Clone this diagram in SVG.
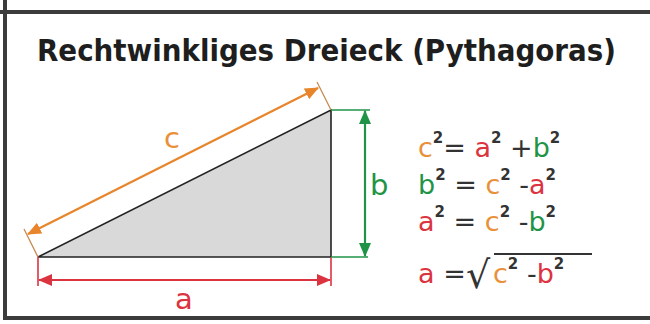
<svg xmlns="http://www.w3.org/2000/svg" width="650" height="324" viewBox="0 0 650 324">
<defs>
<style>
.frame{stroke:#3c3c3c;stroke-width:4;fill:none}
.t{font-family:"DejaVu Sans",Verdana,sans-serif}
.title{font-size:31px;font-weight:bold;fill:#1e1e1e}
.f{font-size:27px;fill:#333}
.lbl{font-size:29px}
.o{fill:#e8913a}
.r{fill:#dc3340}
.g{fill:#1f9447}
.sup{font-size:15px;font-weight:bold;fill:#333}
.dimo{stroke:#e8852a;stroke-width:2.2;fill:none}
.exto{stroke:#c8884e;stroke-width:1.3;fill:none}
.dimr{stroke:#dc3340;stroke-width:2.2;fill:none}
.extr{stroke:#dc3340;stroke-width:1.6;fill:none}
.dimg{stroke:#1f9447;stroke-width:2.2;fill:none}
.extg{stroke:#1f9447;stroke-width:1.6;fill:none}
</style>
<marker id="ao" viewBox="0 0 14 12" refX="13" refY="6" markerWidth="14" markerHeight="12" markerUnits="userSpaceOnUse" orient="auto-start-reverse"><path d="M0,0 L14,6 L0,12 z" fill="#e8852a"/></marker>
<marker id="ar" viewBox="0 0 14 12" refX="13" refY="6" markerWidth="14" markerHeight="12" markerUnits="userSpaceOnUse" orient="auto-start-reverse"><path d="M0,0 L14,6 L0,12 z" fill="#dc3340"/></marker>
<marker id="ag" viewBox="0 0 14 12" refX="13" refY="6" markerWidth="14" markerHeight="12" markerUnits="userSpaceOnUse" orient="auto-start-reverse"><path d="M0,0 L14,6 L0,12 z" fill="#1f9447"/></marker>
</defs>
<rect width="650" height="324" fill="#ffffff"/>
<g id="frame">
<line class="frame" x1="0" y1="12" x2="650" y2="12"/>
<line class="frame" x1="5" y1="0" x2="5" y2="318"/>
<line class="frame" x1="3" y1="318" x2="650" y2="318"/>
</g>
<g id="title"><text class="t title" transform="translate(37,61) scale(0.895,1)" x="0" y="0">Rechtwinkliges Dreieck (Pythagoras)</text></g>
<g id="triangle">
<polygon points="38,257 331,110 331,257" fill="#d9d9d9" stroke="#222" stroke-width="1.6" stroke-linejoin="miter"/>
</g>
<g id="connectors">
<line class="exto" x1="38" y1="257" x2="24" y2="229"/>
<line class="exto" x1="331" y1="110" x2="317" y2="82"/>
<line class="dimo" x1="28" y1="234" x2="318" y2="88" marker-start="url(#ao)" marker-end="url(#ao)"/>
<line class="extr" x1="38" y1="257" x2="38" y2="286"/>
<line class="extr" x1="331" y1="257" x2="331" y2="286"/>
<line class="dimr" x1="39" y1="280" x2="330" y2="280" marker-start="url(#ar)" marker-end="url(#ar)"/>
<line class="extg" x1="331" y1="110" x2="370" y2="110"/>
<line class="extg" x1="331" y1="257" x2="368" y2="257"/>
<line class="dimg" x1="365" y1="111" x2="365" y2="256" marker-start="url(#ag)" marker-end="url(#ag)"/>
</g>
<g id="labels">
<text class="t lbl o" x="164" y="148">c</text>
<text class="t lbl r" x="175" y="309">a</text>
<text class="t lbl g" x="370" y="195">b</text>
</g>
<g id="formula1"><text class="t f" x="418" y="157"><tspan class="o">c</tspan><tspan class="sup" dy="-14">2</tspan><tspan dy="14">= </tspan><tspan class="r">a</tspan><tspan class="sup" dy="-14">2</tspan><tspan dy="14"> +</tspan><tspan class="g">b</tspan><tspan class="sup" dy="-14">2</tspan></text></g>
<g id="formula2"><text class="t f" x="418" y="194"><tspan class="g">b</tspan><tspan class="sup" dy="-14">2</tspan><tspan dy="14"> = </tspan><tspan class="o">c</tspan><tspan class="sup" dy="-14">2</tspan><tspan dy="14"> -</tspan><tspan class="r">a</tspan><tspan class="sup" dy="-14">2</tspan></text></g>
<g id="formula3"><text class="t f" x="418" y="231"><tspan class="r">a</tspan><tspan class="sup" dy="-14">2</tspan><tspan dy="14"> = </tspan><tspan class="o">c</tspan><tspan class="sup" dy="-14">2</tspan><tspan dy="14"> -</tspan><tspan class="g">b</tspan><tspan class="sup" dy="-14">2</tspan></text></g>
<g id="formula4">
<text class="t f" x="418" y="283"><tspan class="r">a</tspan><tspan> =</tspan></text>
<text class="t" x="466" y="288" font-size="38" fill="#333">√</text>
<text class="t f" x="493" y="283"><tspan class="o">c</tspan><tspan class="sup" dy="-14">2</tspan><tspan dy="14"> -</tspan><tspan class="r">b</tspan><tspan class="sup" dy="-14">2</tspan></text>
<line x1="494" y1="254" x2="592" y2="254" stroke="#333" stroke-width="1.8"/>
</g>
</svg>
